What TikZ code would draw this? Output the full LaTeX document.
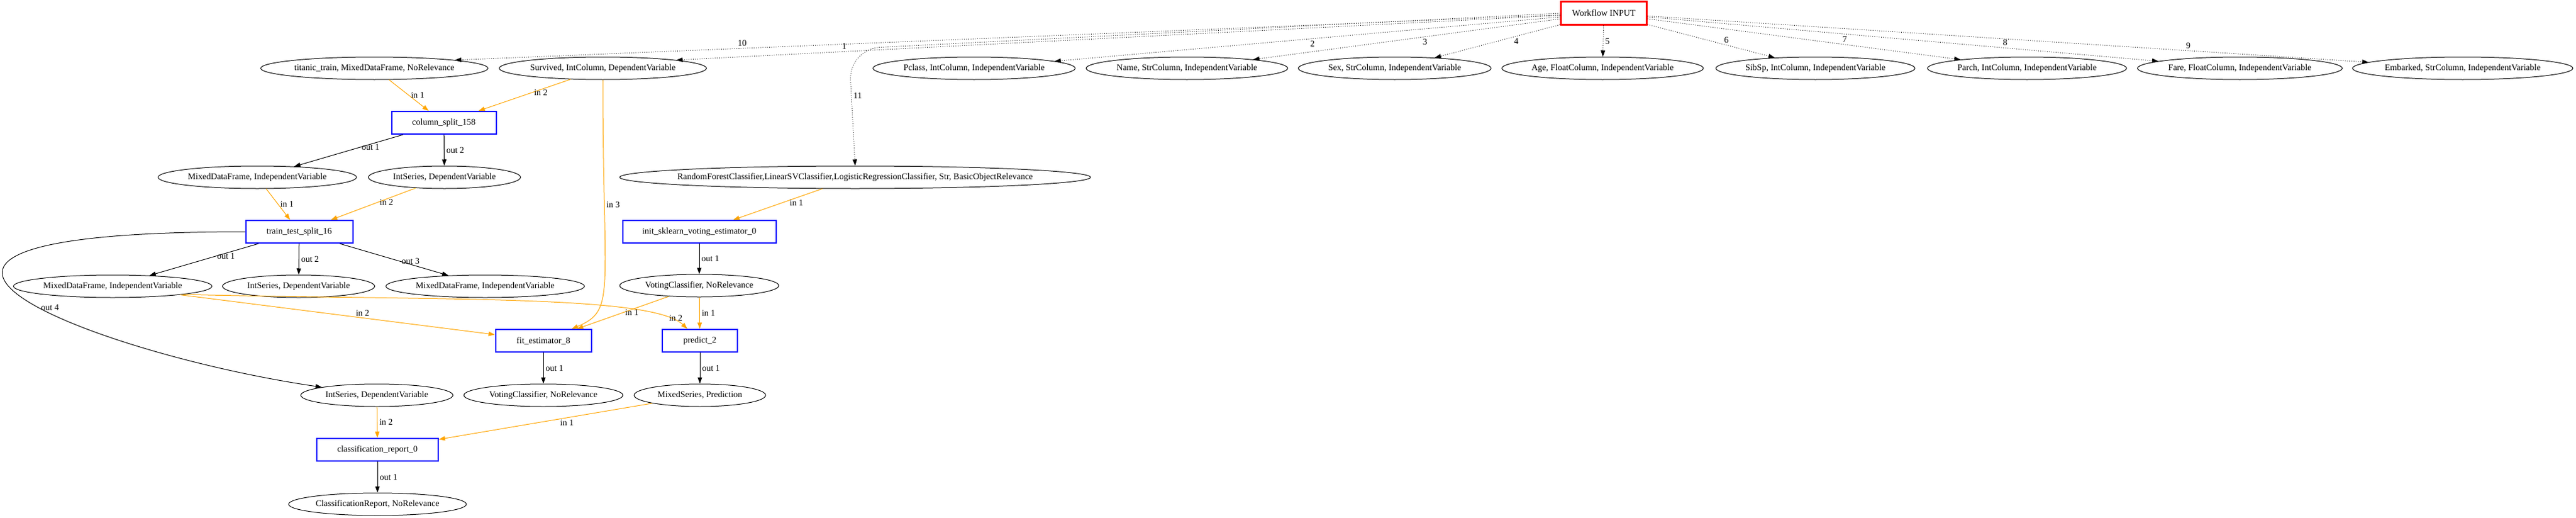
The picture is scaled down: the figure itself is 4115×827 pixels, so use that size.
\documentclass[tikz,border=0pt]{standalone}
\usepackage{fontspec}
\setmainfont{Liberation Serif}
\usetikzlibrary{shapes.geometric, arrows.meta}
\definecolor{gvorange}{HTML}{FFA500}

\begin{document}
\begin{tikzpicture}[x=1pt, y=-1pt,
    font=\fontsize{14pt}{16pt}\selectfont,
    data/.style={ellipse, draw, line width=1pt, inner xsep=-40pt, inner ysep=2pt, minimum height=36pt},
    task/.style={draw=blue, line width=2pt, minimum height=36pt},
    source/.style={draw=red, line width=2.5pt, minimum width=137pt, minimum height=37pt},
    inedge/.style={draw=gvorange, line width=1pt, -{Triangle[length=10pt,width=7pt]}},
    outedge/.style={draw=black, line width=1pt, -{Triangle[length=10pt,width=7pt]}},
    coledge/.style={draw=black, line width=0.8pt, dash pattern=on 1pt off 2.5pt, -{Triangle[length=10pt,width=7pt]}},
    lbl/.style={inner sep=3pt}]
    \useasboundingbox (0,0) rectangle (4115,827);

    % workflow input and its columns
    \node[source] (input) at (2562,21) {Workflow INPUT};
    \node[data, minimum width=363pt] (titanic) at (598,109) {titanic\_train, MixedDataFrame, NoRelevance};
    \node[data, minimum width=331pt] (survived) at (963,109) {Survived, IntColumn, DependentVariable};
    \node[data, minimum width=323pt] (pclass) at (1556,109) {Pclass, IntColumn, IndependentVariable};
    \node[data, minimum width=322pt] (name) at (1896,109) {Name, StrColumn, IndependentVariable};
    \node[data, minimum width=308pt] (sex) at (2228,109) {Sex, StrColumn, IndependentVariable};
    \node[data, minimum width=322pt] (age) at (2560,109) {Age, FloatColumn, IndependentVariable};
    \node[data, minimum width=318pt] (sibsp) at (2900,109) {SibSp, IntColumn, IndependentVariable};
    \node[data, minimum width=318pt] (parch) at (3238,109) {Parch, IntColumn, IndependentVariable};
    \node[data, minimum width=327pt] (fare) at (3578,109) {Fare, FloatColumn, IndependentVariable};
    \node[data, minimum width=352pt] (embarked) at (3934,109) {Embarked, StrColumn, IndependentVariable};

    % tasks and their results
    \node[task, minimum width=167pt] (split) at (709,196) {column\_split\_158};
    \node[data, minimum width=317pt] (mdfa) at (411,283) {MixedDataFrame, IndependentVariable};
    \node[data, minimum width=243pt] (intsa) at (710,283) {IntSeries, DependentVariable};
    \node[data, minimum width=752pt] (models) at (1366,283) {RandomForestClassifier,LinearSVClassifier,LogisticRegressionClassifier, Str, BasicObjectRelevance};
    \node[task, minimum width=171pt] (tts) at (478,370) {train\_test\_split\_16};
    \node[task, minimum width=245pt] (init) at (1117,370) {init\_sklearn\_voting\_estimator\_0};
    \node[data, minimum width=317pt] (xtrain) at (180,457) {MixedDataFrame, IndependentVariable};
    \node[data, minimum width=243pt] (ytrain) at (477,457) {IntSeries, DependentVariable};
    \node[data, minimum width=317pt] (xtest) at (775,457) {MixedDataFrame, IndependentVariable};
    \node[data, minimum width=254pt] (voting) at (1117,456) {VotingClassifier, NoRelevance};
    \node[task, minimum width=153pt] (fit) at (868,544) {fit\_estimator\_8};
    \node[task, minimum width=120pt] (predict) at (1118,544) {predict\_2};
    \node[data, minimum width=243pt] (ytest) at (602,631) {IntSeries, DependentVariable};
    \node[data, minimum width=254pt] (fitted) at (868,631) {VotingClassifier, NoRelevance};
    \node[data, minimum width=210pt] (preds) at (1118,631) {MixedSeries, Prediction};
    \node[task, minimum width=194pt] (report) at (603,718) {classification\_report\_0};
    \node[data, minimum width=284pt] (creport) at (603,805) {ClassificationReport, NoRelevance};

    % columns taken from the input
    \draw[coledge] (input) -- node[lbl, pos=0.74, above] {10} (titanic.north east);
    \draw[coledge] (input) -- node[lbl, pos=0.81, above] {1} (survived.north east);
    \draw[coledge] (input) -- node[lbl, pos=0.49, below] {2} (pclass);
    \draw[coledge] (input) -- node[lbl, pos=0.44, below] {3} (name);
    \draw[coledge] (input) -- node[lbl, pos=0.35, below] {4} (sex);
    \draw[coledge] (input) -- node[lbl, right] {5} (age);
    \draw[coledge] (input) -- node[lbl, pos=0.62, above] {6} (sibsp);
    \draw[coledge] (input) -- node[lbl, pos=0.63, above] {7} (parch);
    \draw[coledge] (input) -- node[lbl, pos=0.70, above] {8} (fare);
    \draw[coledge] (input) -- node[lbl, pos=0.75, above] {9} (embarked);
    \draw[coledge, rounded corners=50pt] (input.west) -- (1356,78) -- node[lbl, pos=0.4, right] {11} (models.north);

    % inputs of the tasks
    \draw[inedge] (titanic) -- node[lbl, right] {in 1} (split);
    \draw[inedge] (survived) -- node[lbl, pos=0.42, right] {in 2} (split);
    \draw[inedge] (survived) .. controls (963,470) and (985,495) .. node[lbl, pos=0.245, right] {in 3} (fit);
    \draw[inedge] (mdfa) -- node[lbl, right] {in 1} (tts);
    \draw[inedge] (intsa) -- node[lbl, pos=0.45, right] {in 2} (tts);
    \draw[inedge] (models) -- node[lbl, pos=0.29, below] {in 1} (init);
    \draw[inedge] (xtrain) -- node[lbl, pos=0.58, above] {in 2} (fit);
    \draw[inedge] (xtrain.south east) .. controls (700,480) and (1040,470) .. node[lbl, pos=0.88, right] {in 2} (predict);
    \draw[inedge] (voting) -- node[lbl, right] {in 1} (fit);
    \draw[inedge] (voting) -- node[lbl, right] {in 1} (predict);
    \draw[inedge] (ytest) -- node[lbl, right] {in 2} (report);
    \draw[inedge] (preds) -- node[lbl, pos=0.4, below] {in 1} (report);

    % outputs of the tasks
    \draw[outedge] (split) -- node[lbl, pos=0.4, right] {out 1} (mdfa);
    \draw[outedge] (split) -- node[lbl, right] {out 2} (intsa);
    \draw[outedge] (tts) -- node[lbl, pos=0.4, right] {out 1} (xtrain);
    \draw[outedge] (tts) -- node[lbl, right] {out 2} (ytrain);
    \draw[outedge] (tts) -- node[lbl, pos=0.55, right] {out 3} (xtest);
    \draw[outedge] (tts.west) .. controls (-360,370) and (150,565) .. node[lbl, pos=0.55, right] {out 4} (ytest);
    \draw[outedge] (init) -- node[lbl, right] {out 1} (voting);
    \draw[outedge] (fit) -- node[lbl, right] {out 1} (fitted);
    \draw[outedge] (predict) -- node[lbl, right] {out 1} (preds);
    \draw[outedge] (report) -- node[lbl, right] {out 1} (creport);
\end{tikzpicture}
\end{document}
